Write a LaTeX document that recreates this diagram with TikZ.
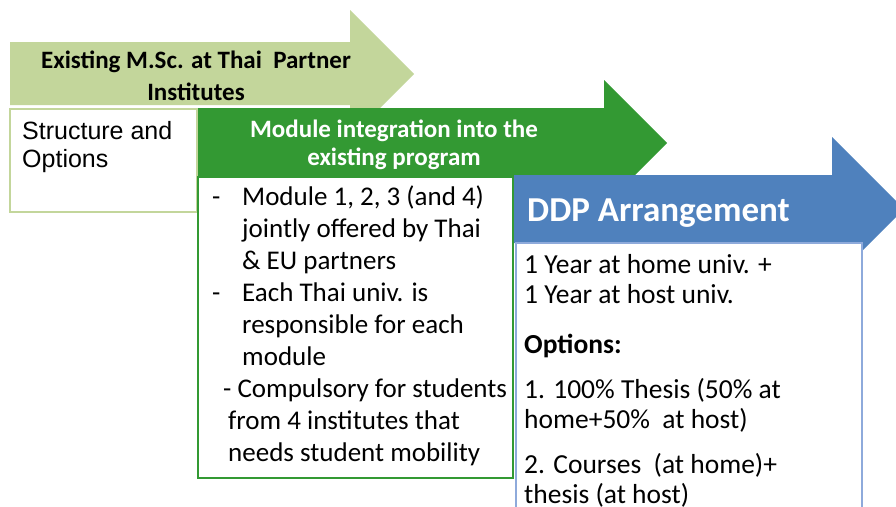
\documentclass[tikz,border=0pt]{standalone}
\usepackage{fontspec}
\setmainfont{Carlito}
\newfontfamily\arialfont{Liberation Sans}
\usepackage{tikz}
\usetikzlibrary{positioning}

\definecolor{paleGreen}{HTML}{C3D69B}
\definecolor{midGreen}{HTML}{339933}
\definecolor{ddpBlue}{HTML}{4F81BD}
\definecolor{ddpEdge}{HTML}{8EAADB}

\begin{document}
\begin{tikzpicture}[
        x=1pt, y=-1pt,
        every node/.style={inner sep=0pt, align=left},
        panel/.style={fill=white, line width=2pt},
        headtext/.style={font=\bfseries\fontsize{25}{32}\selectfont, align=center},
        bodytext/.style={font=\fontsize{27}{32}\selectfont},
        lighttext/.style={text=white, font=\bfseries\fontsize{25}{28}\selectfont, align=center}
    ]
    \useasboundingbox (0,0) rectangle (896,506);
    \clip (0,0) rectangle (896,506);

    % Existing M.Sc.
    \fill[paleGreen] (10,42) -- (350,42) -- (350,10) -- (414,74) -- (350,138) -- (350,105) -- (10,105) -- cycle;
    \draw[panel, draw=paleGreen] (10,109) rectangle (197,212);
    \node[headtext, anchor=base] (msc) at (196,100) {Existing M.Sc. at Thai~ Partner\\Institutes};
    \node[font=\arialfont\fontsize{25}{28}\selectfont, anchor=base west] (struct) at (22,167) {Structure and\\Options};

    % Module integration
    \fill[midGreen] (198,108) -- (604,108) -- (604,80) -- (667,143) -- (604,206) -- (604,177) -- (198,177) -- cycle;
    \draw[panel, draw=midGreen] (198,177) rectangle (513,478);
    \node[lighttext, anchor=base] (integ) at (394,165) {Module integration into the\\existing program};
    \node[bodytext, anchor=base west] (modules) at (212,461) {%
        \makebox[30pt][l]{-}Module 1, 2, 3 (and 4)\\
        \hspace*{30pt}jointly offered by Thai\\
        \hspace*{30pt}\& EU partners\\
        \makebox[30pt][l]{-}Each Thai univ. is\\
        \hspace*{30pt}responsible for each\\
        \hspace*{30pt}module\\
        \hspace*{11pt}- Compulsory for students\\
        \hspace*{16pt}from 4 institutes that\\
        \hspace*{16pt}needs student mobility};

    % DDP
    \fill[ddpBlue] (514,175) -- (832,175) -- (832,137) -- (904,209) -- (832,281) -- (832,243) -- (514,243) -- cycle;
    \draw[panel, draw=ddpEdge] (516,243) rectangle (862,540);
    \node[text=white, font=\bfseries\fontsize{35}{38}\selectfont, anchor=base west] (ddp) at (527,221) {DDP Arrangement};
    \node[font=\fontsize{27.5}{30}\selectfont, anchor=base west] (ddpText) at (524,503) {%
        1 Year at home univ. +\\
        1 Year at host univ.\\[20pt]
        \textbf{Options:}\\[15pt]
        1. 100\% Thesis (50\% at\\
        home+50\%~ at host)\\[15pt]
        2. Courses~ (at home)+\\
        thesis (at host)};
\end{tikzpicture}
\end{document}
